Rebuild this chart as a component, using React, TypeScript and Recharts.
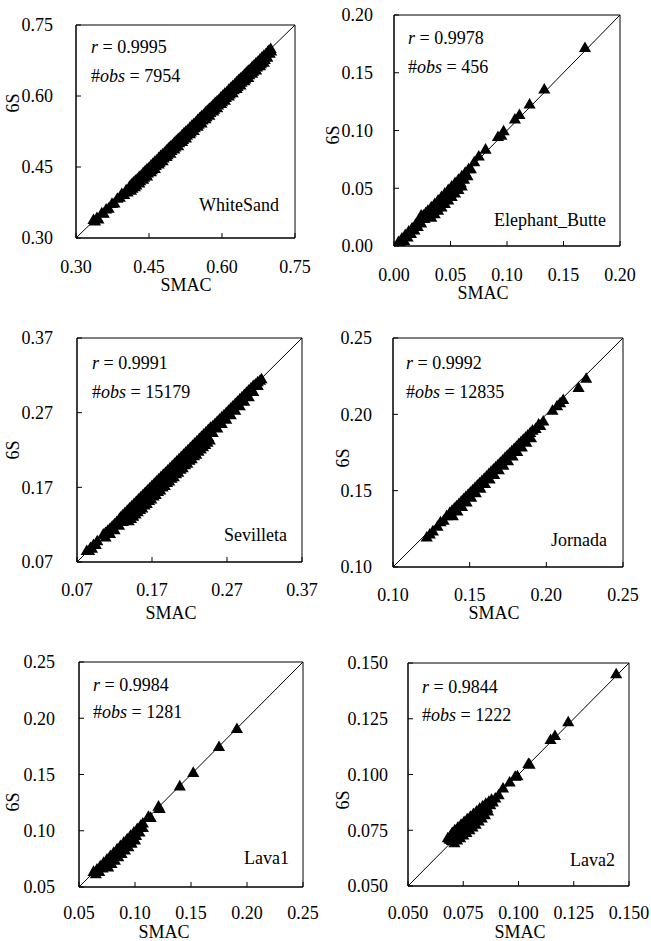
import type { ReactNode } from 'react';
import { ReferenceArea, ReferenceLine, Scatter, ScatterChart, XAxis, YAxis, ZAxis } from 'recharts';

type Pt = [number, number];

const FONT = '"Liberation Serif", "Times New Roman", Times, serif';

// SMAC (x) vs 6S (y)
const WHITE_SAND_PTS: Pt[] = [
  [0.336, 0.337], [0.339, 0.334], [0.343, 0.341], [0.346, 0.338],
  [0.353, 0.351], [0.357, 0.350], [0.362, 0.359], [0.367, 0.361],
  [0.374, 0.371], [0.379, 0.372], [0.385, 0.382], [0.390, 0.384],
  [0.394, 0.392], [0.399, 0.390], [0.403, 0.400], [0.406, 0.395],
  [0.410, 0.407], [0.413, 0.399], [0.418, 0.416], [0.421, 0.406],
  [0.426, 0.423], [0.430, 0.414], [0.434, 0.431], [0.438, 0.422],
  [0.442, 0.440], [0.446, 0.429], [0.450, 0.447], [0.454, 0.438],
  [0.458, 0.456], [0.462, 0.445], [0.466, 0.463], [0.470, 0.454],
  [0.474, 0.472], [0.478, 0.461], [0.482, 0.479], [0.486, 0.470],
  [0.490, 0.488], [0.494, 0.477], [0.498, 0.495], [0.502, 0.486],
  [0.506, 0.504], [0.510, 0.493], [0.514, 0.511], [0.518, 0.502],
  [0.522, 0.520], [0.526, 0.509], [0.530, 0.527], [0.534, 0.518],
  [0.538, 0.536], [0.542, 0.525], [0.546, 0.543], [0.550, 0.534],
  [0.554, 0.552], [0.558, 0.541], [0.562, 0.559], [0.566, 0.550],
  [0.570, 0.568], [0.574, 0.557], [0.578, 0.575], [0.582, 0.566],
  [0.586, 0.584], [0.590, 0.573], [0.594, 0.591], [0.598, 0.582],
  [0.602, 0.600], [0.606, 0.589], [0.610, 0.607], [0.614, 0.598],
  [0.618, 0.616], [0.622, 0.605], [0.626, 0.623], [0.630, 0.614],
  [0.634, 0.632], [0.638, 0.621], [0.642, 0.639], [0.646, 0.630],
  [0.650, 0.648], [0.654, 0.637], [0.658, 0.655], [0.662, 0.646],
  [0.666, 0.664], [0.670, 0.653], [0.674, 0.671], [0.678, 0.662],
  [0.682, 0.680], [0.686, 0.669], [0.690, 0.687], [0.693, 0.680],
  [0.696, 0.694], [0.698, 0.688], [0.700, 0.698], [0.701, 0.693],
  [0.414, 0.412], [0.422, 0.420], [0.430, 0.428], [0.438, 0.436], [0.446, 0.444], [0.454, 0.452],
  [0.462, 0.460], [0.470, 0.468], [0.478, 0.476], [0.486, 0.484], [0.494, 0.492], [0.502, 0.500],
  [0.510, 0.508], [0.518, 0.516], [0.526, 0.524], [0.534, 0.532], [0.542, 0.540], [0.550, 0.548],
  [0.558, 0.556], [0.566, 0.564], [0.574, 0.572], [0.582, 0.580], [0.590, 0.588], [0.598, 0.596],
  [0.606, 0.604], [0.614, 0.612], [0.622, 0.620], [0.630, 0.628], [0.638, 0.636], [0.646, 0.644],
  [0.654, 0.652], [0.662, 0.660], [0.670, 0.668], [0.678, 0.676], [0.686, 0.684], [0.694, 0.692],
  [0.416, 0.403], [0.424, 0.410], [0.432, 0.419], [0.440, 0.426], [0.448, 0.435], [0.456, 0.442],
  [0.464, 0.451], [0.472, 0.458], [0.480, 0.467], [0.488, 0.474], [0.496, 0.483], [0.504, 0.490],
  [0.512, 0.499], [0.520, 0.506], [0.528, 0.515], [0.536, 0.522], [0.544, 0.531], [0.552, 0.538],
  [0.560, 0.547], [0.568, 0.554], [0.576, 0.563], [0.584, 0.570], [0.592, 0.579], [0.600, 0.586],
  [0.608, 0.595], [0.616, 0.602], [0.624, 0.611], [0.632, 0.618], [0.640, 0.627], [0.648, 0.634],
  [0.656, 0.643], [0.664, 0.650], [0.672, 0.659], [0.680, 0.666], [0.688, 0.675],
];

const ELEPHANT_PTS: Pt[] = [
  [0.004, 0.003], [0.006, 0.001], [0.007, 0.006], [0.009, 0.004], [0.010, 0.009], [0.012, 0.007],
  [0.013, 0.012], [0.015, 0.010], [0.016, 0.015], [0.018, 0.013], [0.019, 0.018], [0.021, 0.016],
  [0.022, 0.021], [0.024, 0.019], [0.024, 0.026], [0.026, 0.026], [0.027, 0.023], [0.028, 0.028],
  [0.030, 0.025], [0.030, 0.030], [0.032, 0.027], [0.033, 0.024], [0.033, 0.033], [0.035, 0.030],
  [0.036, 0.027], [0.036, 0.036], [0.038, 0.033], [0.039, 0.030], [0.039, 0.039], [0.041, 0.036],
  [0.042, 0.033], [0.042, 0.042], [0.044, 0.039], [0.045, 0.036], [0.045, 0.045], [0.047, 0.042],
  [0.048, 0.039], [0.048, 0.048], [0.050, 0.045], [0.051, 0.042], [0.051, 0.051], [0.053, 0.048],
  [0.054, 0.045], [0.054, 0.054], [0.056, 0.051], [0.057, 0.048], [0.057, 0.057], [0.059, 0.054],
  [0.060, 0.051], [0.060, 0.060], [0.062, 0.057], [0.063, 0.063], [0.065, 0.060], [0.066, 0.066],
  [0.068, 0.066], [0.071, 0.072], [0.075, 0.077], [0.081, 0.083], [0.092, 0.094], [0.095, 0.095],
  [0.097, 0.099], [0.107, 0.109], [0.111, 0.113], [0.120, 0.122], [0.133, 0.135], [0.169, 0.171],
];

const SEVILLETA_PTS: Pt[] = [
  [0.083, 0.084], [0.086, 0.084], [0.088, 0.088], [0.090, 0.087], [0.092, 0.092], [0.095, 0.092], [0.097, 0.097],
  [0.105, 0.106], [0.108, 0.102], [0.111, 0.111], [0.114, 0.107], [0.117, 0.117], [0.120, 0.112],
  [0.123, 0.123], [0.126, 0.118], [0.128, 0.129], [0.131, 0.123], [0.134, 0.135], [0.137, 0.128], [0.139, 0.124],
  [0.140, 0.141], [0.143, 0.134], [0.145, 0.130], [0.146, 0.147], [0.149, 0.140], [0.151, 0.136],
  [0.152, 0.153], [0.155, 0.146], [0.157, 0.141], [0.158, 0.159], [0.161, 0.152], [0.163, 0.147],
  [0.164, 0.165], [0.167, 0.158], [0.169, 0.153], [0.170, 0.171], [0.173, 0.164], [0.175, 0.159],
  [0.176, 0.177], [0.179, 0.170], [0.181, 0.165], [0.182, 0.183], [0.185, 0.176], [0.187, 0.171],
  [0.188, 0.189], [0.191, 0.182], [0.193, 0.177], [0.194, 0.195], [0.197, 0.188], [0.199, 0.183],
  [0.200, 0.201], [0.203, 0.194], [0.205, 0.189], [0.206, 0.207], [0.209, 0.200], [0.211, 0.195],
  [0.212, 0.213], [0.215, 0.206], [0.217, 0.201], [0.218, 0.219], [0.221, 0.212], [0.223, 0.207],
  [0.224, 0.225], [0.227, 0.218], [0.229, 0.213], [0.230, 0.231], [0.233, 0.224], [0.235, 0.220],
  [0.236, 0.237], [0.239, 0.230], [0.241, 0.226], [0.242, 0.243], [0.245, 0.236], [0.247, 0.232],
  [0.248, 0.249], [0.251, 0.242], [0.254, 0.254], [0.257, 0.248], [0.260, 0.260], [0.263, 0.254],
  [0.266, 0.266], [0.269, 0.260], [0.272, 0.272], [0.275, 0.266], [0.278, 0.278], [0.281, 0.272],
  [0.284, 0.284], [0.287, 0.278], [0.290, 0.290], [0.293, 0.284], [0.296, 0.296], [0.299, 0.290],
  [0.302, 0.302], [0.305, 0.297], [0.308, 0.307], [0.311, 0.305], [0.314, 0.312], [0.316, 0.314],
  [0.108, 0.108], [0.114, 0.114], [0.120, 0.120], [0.126, 0.126], [0.131, 0.132], [0.137, 0.138],
  [0.143, 0.144], [0.149, 0.150], [0.155, 0.156], [0.161, 0.162], [0.167, 0.168], [0.173, 0.174],
  [0.179, 0.180], [0.185, 0.186], [0.191, 0.192], [0.197, 0.198], [0.203, 0.204], [0.209, 0.210],
  [0.215, 0.216], [0.221, 0.222], [0.227, 0.228], [0.233, 0.234], [0.239, 0.240], [0.245, 0.246],
  [0.251, 0.251], [0.257, 0.257], [0.263, 0.263], [0.269, 0.269], [0.275, 0.275], [0.281, 0.281],
  [0.287, 0.287], [0.293, 0.293], [0.299, 0.299], [0.305, 0.305], [0.311, 0.310],
  [0.142, 0.127], [0.148, 0.133], [0.154, 0.139], [0.160, 0.145], [0.166, 0.151], [0.172, 0.157],
  [0.178, 0.163], [0.184, 0.169], [0.190, 0.175], [0.196, 0.181], [0.202, 0.187], [0.208, 0.193],
  [0.214, 0.199], [0.220, 0.205], [0.226, 0.211], [0.232, 0.217], [0.238, 0.223], [0.244, 0.229],
];

const JORNADA_PTS: Pt[] = [
  [0.122, 0.119], [0.124, 0.121], [0.126, 0.123], [0.129, 0.126], [0.131, 0.129], [0.133, 0.130], [0.135, 0.133],
  [0.137, 0.135], [0.139, 0.133], [0.140, 0.138], [0.142, 0.136], [0.143, 0.141], [0.145, 0.139],
  [0.146, 0.144], [0.148, 0.142], [0.149, 0.147], [0.151, 0.145], [0.152, 0.150], [0.154, 0.148],
  [0.155, 0.153], [0.157, 0.151], [0.158, 0.156], [0.160, 0.154], [0.161, 0.159], [0.163, 0.157],
  [0.164, 0.162], [0.166, 0.160], [0.167, 0.165], [0.169, 0.163], [0.170, 0.168], [0.172, 0.166],
  [0.173, 0.171], [0.175, 0.169], [0.176, 0.174], [0.178, 0.172], [0.179, 0.177], [0.181, 0.175],
  [0.182, 0.180], [0.184, 0.178], [0.185, 0.183], [0.187, 0.181], [0.188, 0.186], [0.190, 0.184],
  [0.191, 0.189], [0.193, 0.190], [0.195, 0.193], [0.196, 0.192], [0.198, 0.195],
  [0.204, 0.202], [0.207, 0.205], [0.209, 0.207], [0.211, 0.209], [0.221, 0.217], [0.226, 0.223],
  [0.1385, 0.1365], [0.1415, 0.1395], [0.1445, 0.1425], [0.1475, 0.1455], [0.1505, 0.1485], [0.1535, 0.1515],
  [0.1565, 0.1545], [0.1595, 0.1575], [0.1625, 0.1605], [0.1655, 0.1635], [0.1685, 0.1665], [0.1715, 0.1695],
  [0.1745, 0.1725], [0.1775, 0.1755], [0.1805, 0.1785], [0.1835, 0.1815], [0.1865, 0.1845], [0.1895, 0.1875],
];

const LAVA1_PTS: Pt[] = [
  [0.063, 0.063], [0.065, 0.061], [0.066, 0.065], [0.068, 0.063], [0.069, 0.068], [0.071, 0.066],
  [0.072, 0.071], [0.074, 0.069], [0.075, 0.074], [0.077, 0.071], [0.076, 0.067], [0.078, 0.077],
  [0.080, 0.074], [0.079, 0.070], [0.081, 0.080], [0.083, 0.077], [0.082, 0.073], [0.084, 0.083],
  [0.086, 0.080], [0.085, 0.076], [0.087, 0.086], [0.089, 0.083], [0.088, 0.079], [0.090, 0.089],
  [0.092, 0.086], [0.091, 0.082], [0.093, 0.092], [0.095, 0.089], [0.094, 0.085], [0.096, 0.095],
  [0.098, 0.092], [0.097, 0.088], [0.099, 0.098], [0.101, 0.095], [0.100, 0.091], [0.102, 0.101],
  [0.104, 0.098], [0.105, 0.104], [0.107, 0.102], [0.107, 0.106],
  [0.112, 0.112], [0.114, 0.111], [0.121, 0.121], [0.122, 0.119], [0.140, 0.139], [0.152, 0.151],
  [0.175, 0.174], [0.191, 0.190],
];

const LAVA2_PTS: Pt[] = [
  [0.0680, 0.0712], [0.0688, 0.0705], [0.0692, 0.0722], [0.0698, 0.0700], [0.0700, 0.0735], [0.0705, 0.0712],
  [0.0710, 0.0690], [0.0712, 0.0748], [0.0718, 0.0725], [0.0722, 0.0702], [0.0726, 0.0760], [0.0732, 0.0738],
  [0.0736, 0.0712], [0.0740, 0.0772], [0.0746, 0.0750], [0.0750, 0.0724], [0.0754, 0.0785], [0.0760, 0.0762],
  [0.0764, 0.0736], [0.0768, 0.0797], [0.0774, 0.0774], [0.0778, 0.0748], [0.0782, 0.0808], [0.0788, 0.0786],
  [0.0792, 0.0760], [0.0796, 0.0820], [0.0802, 0.0798], [0.0806, 0.0773], [0.0810, 0.0832], [0.0816, 0.0810],
  [0.0820, 0.0787], [0.0824, 0.0844], [0.0830, 0.0822], [0.0834, 0.0800], [0.0838, 0.0855], [0.0844, 0.0834],
  [0.0848, 0.0815], [0.0852, 0.0866], [0.0858, 0.0846], [0.0862, 0.0832], [0.0866, 0.0876], [0.0872, 0.0860],
  [0.0878, 0.0885], [0.0884, 0.0872],
  [0.0895, 0.0890], [0.0910, 0.0905], [0.0930, 0.0935], [0.0960, 0.0962], [0.0985, 0.0988], [0.0995, 0.0990],
  [0.1045, 0.1045], [0.1050, 0.1042], [0.1145, 0.1152], [0.1165, 0.1170], [0.1225, 0.1232], [0.1442, 0.1447],
];

const WHITE_SAND_TICKS = [0.3, 0.45, 0.6, 0.75];
const ELEPHANT_TICKS = [0, 0.05, 0.1, 0.15, 0.2];
const SEVILLETA_TICKS = [0.07, 0.17, 0.27, 0.37];
const JORNADA_TICKS = [0.1, 0.15, 0.2, 0.25];
const LAVA1_TICKS = [0.05, 0.1, 0.15, 0.2, 0.25];
const LAVA2_TICKS = [0.05, 0.075, 0.1, 0.125, 0.15];

type PanelDef = {
  name: string;
  r: string;
  obs: string;
  points: Pt[];
  ticks: number[];
  digits: number;
  box: [number, number, number, number];
  yGap: number;
  xGap: number;
  rPos: [number, number];
  obsPos: [number, number];
  namePos: [number, number];
  yLabel: [number, number];
  xLabel: [number, number];
};

const PANELS: PanelDef[] = [
  {
    name: 'WhiteSand', r: '0.9995', obs: '7954', points: WHITE_SAND_PTS, ticks: WHITE_SAND_TICKS, digits: 2,
    box: [76, 25, 295, 238], yGap: 23, xGap: 29,
    rPos: [91, 47], obsPos: [91, 76], namePos: [279, 205], yLabel: [13, 103], xLabel: [186, 285],
  },
  {
    name: 'Elephant_Butte', r: '0.9978', obs: '456', points: ELEPHANT_PTS, ticks: ELEPHANT_TICKS, digits: 2,
    box: [394, 15, 620, 246], yGap: 21, xGap: 29,
    rPos: [408, 38], obsPos: [408, 67], namePos: [606, 220], yLabel: [333, 135], xLabel: [483, 293],
  },
  {
    name: 'Sevilleta', r: '0.9991', obs: '15179', points: SEVILLETA_PTS, ticks: SEVILLETA_TICKS, digits: 2,
    box: [77, 338, 302, 562], yGap: 24, xGap: 28,
    rPos: [92, 363], obsPos: [92, 392], namePos: [287, 535], yLabel: [13, 450], xLabel: [171, 613],
  },
  {
    name: 'Jornada', r: '0.9992', obs: '12835', points: JORNADA_PTS, ticks: JORNADA_TICKS, digits: 2,
    box: [393, 338, 623, 567], yGap: 21, xGap: 28,
    rPos: [406, 363], obsPos: [406, 392], namePos: [607, 540], yLabel: [343, 458], xLabel: [494, 613],
  },
  {
    name: 'Lava1', r: '0.9984', obs: '1281', points: LAVA1_PTS, ticks: LAVA1_TICKS, digits: 2,
    box: [79, 662, 303, 887], yGap: 24, xGap: 26,
    rPos: [93, 685], obsPos: [93, 712], namePos: [289, 858], yLabel: [13, 802], xLabel: [164, 932],
  },
  {
    name: 'Lava2', r: '0.9844', obs: '1222', points: LAVA2_PTS, ticks: LAVA2_TICKS, digits: 3,
    box: [408, 663, 629, 886], yGap: 20, xGap: 27,
    rPos: [422, 687], obsPos: [422, 715], namePos: [615, 860], yLabel: [343, 800], xLabel: [520, 932],
  },
];

const Y_AXIS_W = 70;
const X_AXIS_H = 50;
const PAD_R = 30;
const TICK = { fill: '#000', fontSize: 18, fontFamily: FONT };

function Txt({ x, y, align, rotate, children }: {
  x: number; y: number; align: 'left' | 'center' | 'right'; rotate?: boolean; children: ReactNode;
}) {
  const tx = align === 'left' ? '0' : align === 'right' ? '-100%' : '-50%';
  return (
    <div
      style={{
        position: 'absolute', left: x, top: y, whiteSpace: 'nowrap', lineHeight: 1,
        fontFamily: FONT, fontSize: 18, color: '#000',
        transform: `translate(${tx}, -50%)${rotate ? ' rotate(-90deg)' : ''}`,
      }}
    >
      {children}
    </div>
  );
}

function Panel({ p }: { p: PanelDef }) {
  const [l, t, r, b] = p.box;
  const lo = p.ticks[0];
  const hi = p.ticks[p.ticks.length - 1];
  const data = p.points.map(([x, y]) => ({ x, y }));
  const fmt = (v: number) => v.toFixed(p.digits);

  return (
    <>
      <div style={{ position: 'absolute', left: l - Y_AXIS_W, top: t - 10 }}>
        <ScatterChart
          width={r - l + Y_AXIS_W + PAD_R}
          height={b - t + 10 + X_AXIS_H}
          margin={{ top: 10, right: PAD_R, bottom: 0, left: 0 }}
        >
          <XAxis
            type="number" dataKey="x" domain={[lo, hi]} ticks={p.ticks} interval={0} allowDataOverflow
            tickFormatter={fmt} height={X_AXIS_H} tickSize={-5} tickMargin={p.xGap - 2}
            tick={TICK} axisLine={{ stroke: '#000' }} tickLine={{ stroke: '#000' }}
          />
          <YAxis
            type="number" dataKey="y" domain={[lo, hi]} ticks={p.ticks} interval={0} allowDataOverflow
            tickFormatter={fmt} width={Y_AXIS_W} tickSize={-5} tickMargin={p.yGap + 5}
            tick={TICK} axisLine={{ stroke: '#000' }} tickLine={{ stroke: '#000' }}
          />
          <ZAxis type="number" range={[36, 36]} />
          <ReferenceArea x1={lo} x2={hi} y1={lo} y2={hi} fill="none" stroke="#000" strokeWidth={1} />
          <ReferenceLine segment={[{ x: lo, y: lo }, { x: hi, y: hi }]} stroke="#000" strokeWidth={1} />
          <Scatter data={data} shape="triangle" fill="#000" isAnimationActive={false} />
        </ScatterChart>
      </div>
      <Txt x={p.rPos[0]} y={p.rPos[1]} align="left"><i>r</i> = {p.r}</Txt>
      <Txt x={p.obsPos[0]} y={p.obsPos[1]} align="left">#<i>obs</i> = {p.obs}</Txt>
      <Txt x={p.namePos[0]} y={p.namePos[1]} align="right">{p.name}</Txt>
      <Txt x={p.yLabel[0]} y={p.yLabel[1]} align="center" rotate>6S</Txt>
      <Txt x={p.xLabel[0]} y={p.xLabel[1]} align="center">SMAC</Txt>
    </>
  );
}

export default function App() {
  return (
    <div style={{ position: 'absolute', left: 0, top: 0, width: 651, height: 941, background: '#fff' }}>
      {PANELS.map((p) => (
        <Panel key={p.name} p={p} />
      ))}
    </div>
  );
}
